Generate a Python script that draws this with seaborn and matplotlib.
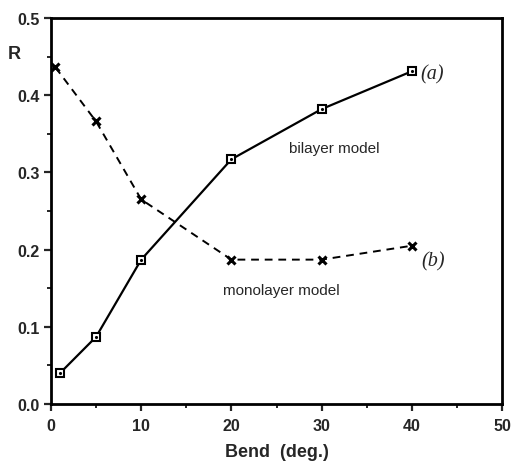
"""R versus bend angle for bilayer and monolayer models"""

import matplotlib
matplotlib.use("Agg")
import matplotlib.pyplot as plt
import seaborn as sns
from matplotlib.ticker import MultipleLocator

# bilayer model (a)
bilayer_x = [1, 5, 10, 20, 30, 40]
bilayer_r = [0.040, 0.087, 0.187, 0.317, 0.382, 0.431]

# monolayer model (b)
monolayer_x = [0.5, 5, 10, 20, 30, 40]
monolayer_r = [0.436, 0.366, 0.265, 0.187, 0.187, 0.205]

x_ticks = [0, 10, 20, 30, 40, 50]
y_ticks = [0.0, 0.1, 0.2, 0.3, 0.4, 0.5]

sns.set_style("ticks")
plt.rcParams["font.family"] = ["Liberation Sans", "DejaVu Sans"]

fig = plt.figure(figsize=(5.14, 4.64), dpi=100)
ax = fig.add_axes([0.0992, 0.1272, 0.8775, 0.8318])

sns.lineplot(x=bilayer_x, y=bilayer_r, ax=ax, color="black", lw=1.6,
             marker="s", markersize=6, markerfacecolor="white",
             markeredgecolor="black", markeredgewidth=1.5)
ax.plot(bilayer_x, bilayer_r, ls="none", marker=".", ms=2.5, color="black")

sns.lineplot(x=monolayer_x, y=monolayer_r, ax=ax, color="black", lw=1.4,
             linestyle=(0, (4, 3)), marker="x", markersize=6,
             markeredgewidth=2.2, markeredgecolor="black")

ax.set_xlim(0, 50)
ax.set_ylim(0, 0.5)
ax.set_xticks(x_ticks)
ax.set_yticks(y_ticks)
ax.set_yticklabels([f"{v:.1f}" for v in y_ticks])
ax.xaxis.set_minor_locator(MultipleLocator(5))
ax.yaxis.set_minor_locator(MultipleLocator(0.05))
ax.tick_params(which="major", direction="out", length=5, width=1.6,
               labelsize=11.5, pad=3)
ax.tick_params(which="minor", direction="out", length=3, width=1.4)
ax.tick_params(axis="x", which="major", pad=5)
for lab in ax.get_xticklabels() + ax.get_yticklabels():
    lab.set_fontweight("bold")

for side in ["left", "right", "top", "bottom"]:
    ax.spines[side].set_visible(True)
    ax.spines[side].set_linewidth(2.0)
    ax.spines[side].set_color("black")

ax.set_xlabel("Bend  (deg.)", fontsize=13, fontweight="bold", labelpad=7)
ax.set_ylabel("")
ax.text(-0.082, 0.907, "R", transform=ax.transAxes, fontsize=13,
        fontweight="bold", ha="center", va="center")

ax.text(26.4, 0.332, "bilayer model", fontsize=11, va="center", ha="left")
ax.text(19.1, 0.148, "monolayer model", fontsize=11, va="center", ha="left")
ax.text(40.9, 0.428, "(a)", fontsize=14.5, family="Liberation Serif",
        style="italic", va="center", ha="left")
ax.text(41.1, 0.185, "(b)", fontsize=14.5, family="Liberation Serif",
        style="italic", va="center", ha="left")

fig.savefig("out.png", dpi=100)
plt.close(fig)
